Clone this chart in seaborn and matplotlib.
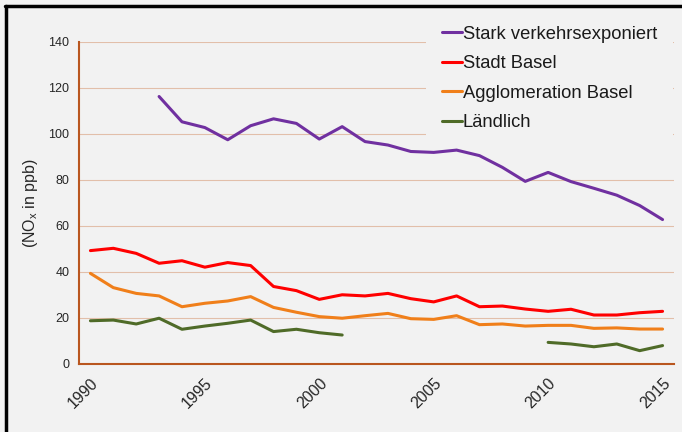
import numpy as np
import pandas as pd
import seaborn as sns
import matplotlib.pyplot as plt
from matplotlib.lines import Line2D
from matplotlib.ticker import MultipleLocator

years = list(range(1990, 2016))

# NOx annual means in ppb, None = no measurement
stark = [None, None, None, 116.3, 105.3, 102.8, 97.5, 103.6, 106.6, 104.6,
         97.8, 103.2, 96.7, 95.2, 92.4, 92.0, 93.0, 90.6, 85.5, 79.4,
         83.3, 79.3, 76.4, 73.4, 68.9, 62.8]
stadt = [49.3, 50.3, 48.1, 43.8, 44.9, 42.1, 44.1, 42.8, 33.7, 31.9,
         28.1, 30.1, 29.6, 30.7, 28.4, 27.0, 29.6, 24.9, 25.2, 23.9,
         22.9, 23.8, 21.3, 21.3, 22.3, 22.9]
agglo = [39.4, 33.2, 30.7, 29.6, 24.9, 26.4, 27.4, 29.3, 24.6, 22.5,
         20.6, 19.9, 21.0, 22.0, 19.7, 19.4, 21.0, 17.1, 17.4, 16.5,
         16.8, 16.8, 15.5, 15.7, 15.2, 15.2]
laendlich = [18.8, 19.1, 17.4, 19.9, 15.1, 16.5, 17.7, 19.1, 14.1, 15.1,
             13.6, 12.6, None, None, None, None, None, None, None, None,
             9.4, 8.7, 7.5, 8.7, 5.8, 8.0]

series_names = ['Stark verkehrsexponiert', 'Stadt Basel', 'Agglomeration Basel', 'Ländlich']
colors = {'Stark verkehrsexponiert': '#7030A0', 'Stadt Basel': '#FF0000',
          'Agglomeration Basel': '#F07F1A', 'Ländlich': '#4F6B28'}
tick_years = [1990, 1995, 2000, 2005, 2010, 2015]

# long form, with a segment id so gaps are not bridged
rows = []
for name, vals in zip(series_names, [stark, stadt, agglo, laendlich]):
    seg = 0
    prev = None
    for y, v in zip(years, vals):
        if v is None:
            prev = None
            continue
        if prev is None:
            seg += 1
        rows.append({'year': y, 'value': v, 'series': name, 'seg': f'{name}_{seg}'})
        prev = v
df = pd.DataFrame(rows)

sns.set_style('white')
plt.rcParams['font.family'] = ['Liberation Sans', 'DejaVu Sans']
bg = '#F2F2F2'
axis_col = '#B9561F'
grid_col = '#E2BFAA'

fig = plt.figure(figsize=(6.82, 4.32), dpi=100, facecolor=bg)
ax = fig.add_axes([79/682, 1-364/432, (674-79)/682, (364-42)/432])
ax.set_facecolor(bg)

for v in range(20, 141, 20):
    ax.axhline(v, color=grid_col, lw=0.8, zorder=0)

sns.lineplot(data=df, x='year', y='value', hue='series', units='seg', estimator=None,
             palette=colors, hue_order=series_names, lw=2.2, ax=ax, legend=False)

ax.set_xlim(1989.5, 2015.5)
ax.set_ylim(0, 140)
ax.yaxis.set_major_locator(MultipleLocator(20))
ax.set_xticks(tick_years)
ax.set_xticklabels([str(t) for t in tick_years], rotation=45, ha='right',
                   rotation_mode='anchor', fontsize=11.5, color='#262626')
ax.set_xticks(np.arange(1989.5, 2016, 1), minor=True)
ax.tick_params(axis='x', which='major', length=0, pad=8)
ax.tick_params(axis='x', which='minor', length=5, width=1.2, color=axis_col, direction='out')
ax.tick_params(axis='y', length=4, width=1.2, color=axis_col, direction='out',
               labelsize=9, labelcolor='#262626', pad=3)
ax.set_xlabel('')
ax.set_ylabel('(NO$_\\mathregular{x}$ in ppb)', fontsize=11.5, color='#262626')
ax.yaxis.set_label_coords(-0.066, 0.5)

for s in ['top', 'right']:
    ax.spines[s].set_visible(False)
for s in ['left', 'bottom']:
    ax.spines[s].set_color(axis_col)
    ax.spines[s].set_linewidth(1.5)

handles = [Line2D([0], [0], color=colors[n], lw=2.2) for n in series_names]
leg = ax.legend(handles, series_names, loc='upper left',
                bbox_to_anchor=(417/682, 1-1/432), bbox_transform=fig.transFigure,
                fontsize=13.2, frameon=True, facecolor=bg, edgecolor='none', framealpha=1,
                handlelength=1.1, handletextpad=0.05, labelspacing=0.68, borderpad=0.85)
for t in leg.get_texts():
    t.set_color('#1a1a1a')

# black frame remnant on top and left
fig.add_artist(Line2D([5/682, 1], [1-6/432, 1-6/432], transform=fig.transFigure, color='black', lw=2.5))
fig.add_artist(Line2D([6/682, 6/682], [0, 1-6/432], transform=fig.transFigure, color='black', lw=2.5))

fig.savefig('out.png', dpi=100, facecolor=bg)
